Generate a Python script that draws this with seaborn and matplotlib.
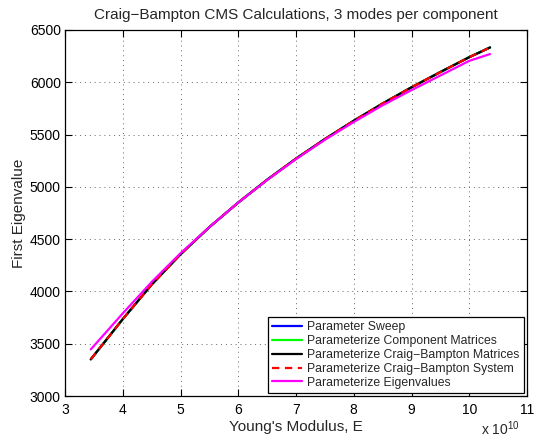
import matplotlib
matplotlib.use("Agg")
import matplotlib.pyplot as plt
import seaborn as sns
import pandas as pd

# Young's modulus (units of 1e10)
E = [3.447, 4.0, 4.5, 5.0, 5.5, 6.0, 6.5, 7.0, 7.5, 8.0, 8.5, 9.0, 9.5, 10.0, 10.36]
sweep = [3351, 3735, 4065, 4355, 4615, 4850, 5068, 5270, 5457, 5632, 5797, 5952, 6098, 6240, 6333]
comp_mats = [3351, 3735, 4065, 4355, 4615, 4850, 5068, 5270, 5457, 5632, 5797, 5952, 6098, 6240, 6333]
cb_mats = [3351, 3735, 4065, 4355, 4615, 4850, 5068, 5270, 5457, 5632, 5797, 5952, 6098, 6240, 6333]
cb_sys = [3351, 3735, 4065, 4355, 4615, 4850, 5068, 5270, 5457, 5632, 5797, 5952, 6098, 6240, 6333]
eigs = [3446, 3790, 4090, 4365, 4615, 4850, 5065, 5265, 5450, 5620, 5780, 5925, 6065, 6205, 6270]

labels = ["Parameter Sweep", "Parameterize Component Matrices",
          "Parameterize Craig\u2212Bampton Matrices", "Parameterize Craig\u2212Bampton System",
          "Parameterize Eigenvalues"]
series = [sweep, comp_mats, cb_mats, cb_sys, eigs]
colors = ["#0000ff", "#00ff00", "#000000", "#ff0000", "#ff00ff"]
styles = ["-", "-", "-", (0, (3.3, 2.5)), "-"]

xticks = [3, 4, 5, 6, 7, 8, 9, 10, 11]
yticks = [3000, 3500, 4000, 4500, 5000, 5500, 6000, 6500]

sns.set_theme(style="ticks")
plt.rcParams["font.family"] = ["Liberation Sans", "DejaVu Sans"]
plt.rcParams["mathtext.fontset"] = "custom"
plt.rcParams["mathtext.rm"] = "Liberation Sans"

fig = plt.figure(figsize=(5.35, 4.41), dpi=100)
W, H = 535, 441
ax = fig.add_axes([65 / W, 1 - 396 / H, (527 - 65) / W, (396 - 30) / H])

for lab, ys, c, ls in zip(labels, series, colors, styles):
    df = pd.DataFrame({"E": E, "val": ys})
    sns.lineplot(data=df, x="E", y="val", ax=ax, color=c, lw=1.6,
                 linestyle=ls, label=lab, estimator=None, sort=False)

ax.set_xlim(3, 11)
ax.set_ylim(3000, 6500)
ax.set_xticks(xticks)
ax.set_yticks(yticks)
ax.set_xticklabels([str(t) for t in xticks])
ax.set_yticklabels([str(t) for t in yticks])
ax.tick_params(direction="in", length=5, width=0.8, top=True, right=True,
               labelsize=10, colors="black")
ax.tick_params(axis="x", pad=5)
ax.tick_params(axis="y", pad=3)
for sp in ax.spines.values():
    sp.set_visible(True)
    sp.set_color("black")
    sp.set_linewidth(0.9)
ax.grid(True, color="#666666", linestyle=(0, (1, 4)), linewidth=0.7)
ax.set_axisbelow(True)

ax.set_xlabel("Young's Modulus, E", fontsize=11, labelpad=2)
ax.set_ylabel("First Eigenvalue", fontsize=11, labelpad=3)
ax.set_title("Craig\u2212Bampton CMS Calculations, 3 modes per component",
             fontsize=11, pad=8)

leg = ax.legend(loc="lower right", fontsize=8.8, frameon=True, fancybox=False,
                framealpha=1, edgecolor="black", borderaxespad=0.25,
                handlelength=2.5, handletextpad=0.4, labelspacing=0.15,
                borderpad=0.35)
leg.get_frame().set_linewidth(0.9)

fig.text(520 / W, 1 - 435 / H, r"x 10$^{\mathregular{10}}$", fontsize=10,
         ha="right", va="baseline")

fig.savefig("out.png", dpi=100, facecolor="white")
